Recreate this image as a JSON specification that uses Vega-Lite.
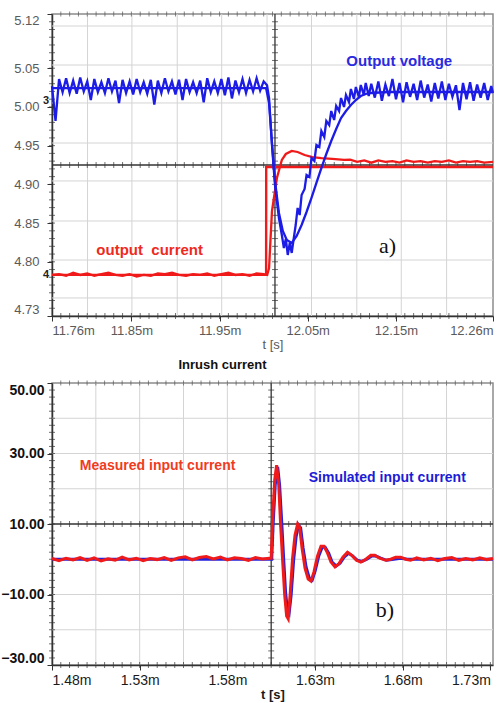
{
  "$schema": "https://vega.github.io/schema/vega-lite/v6.json",
  "padding": {"left": 0, "top": 10, "right": 2, "bottom": 0},
  "spacing": 5,
  "config": {
    "font": "Liberation Sans",
    "view": {"stroke": "#8c8c8c", "strokeWidth": 1.5},
    "axis": {"domainColor": "#333333", "tickColor": "#333333", "domainWidth": 1.5}
  },
  "datasets": {
    "topGridT": [{"t": 11.8003}, {"t": 11.8506}, {"t": 11.902}, {"t": 11.9524}, {"t": 12.0038}, {"t": 12.0542}, {"t": 12.1056}, {"t": 12.156}, {"t": 12.2074}],
    "topGridV": [{"v": 5.1045}, {"v": 5.0541}, {"v": 5.0051}, {"v": 4.9534}, {"v": 4.9044}, {"v": 4.8527}, {"v": 4.8023}, {"v": 4.7533}],
    "botGridT": [{"t": 1.505}, {"t": 1.53}, {"t": 1.555}, {"t": 1.58}, {"t": 1.63}, {"t": 1.655}, {"t": 1.68}, {"t": 1.705}],
    "botGridV": [{"v": 40}, {"v": 30}, {"v": 20}, {"v": 0}, {"v": -10}, {"v": -20}],
    "topTickT": [{"t":11.77},{"t":11.78},{"t":11.79},{"t":11.80},{"t":11.81},{"t":11.82},{"t":11.83},{"t":11.84},{"t":11.85},{"t":11.86},{"t":11.87},{"t":11.88},{"t":11.89},{"t":11.90},{"t":11.91},{"t":11.92},{"t":11.93},{"t":11.94},{"t":11.95},{"t":11.96},{"t":11.97},{"t":11.98},{"t":11.99},{"t":12.00},{"t":12.01},{"t":12.02},{"t":12.03},{"t":12.04},{"t":12.05},{"t":12.06},{"t":12.07},{"t":12.08},{"t":12.09},{"t":12.10},{"t":12.11},{"t":12.12},{"t":12.13},{"t":12.14},{"t":12.15},{"t":12.16},{"t":12.17},{"t":12.18},{"t":12.19},{"t":12.20},{"t":12.21},{"t":12.22},{"t":12.23},{"t":12.24},{"t":12.25}],
    "topTickV": [{"v":4.74},{"v":4.75},{"v":4.76},{"v":4.77},{"v":4.78},{"v":4.79},{"v":4.80},{"v":4.81},{"v":4.82},{"v":4.83},{"v":4.84},{"v":4.85},{"v":4.86},{"v":4.87},{"v":4.88},{"v":4.89},{"v":4.90},{"v":4.91},{"v":4.92},{"v":4.93},{"v":4.94},{"v":4.95},{"v":4.96},{"v":4.97},{"v":4.98},{"v":4.99},{"v":5.00},{"v":5.01},{"v":5.02},{"v":5.03},{"v":5.04},{"v":5.05},{"v":5.06},{"v":5.07},{"v":5.08},{"v":5.09},{"v":5.10},{"v":5.11}],
    "topI": [
      {"s":"meas","t":11.760,"v":4.783},{"s":"meas","t":11.768,"v":4.784},{"s":"meas","t":11.776,"v":4.782},{"s":"meas","t":11.784,"v":4.786},{"s":"meas","t":11.792,"v":4.783},{"s":"meas","t":11.800,"v":4.785},{"s":"meas","t":11.808,"v":4.782},{"s":"meas","t":11.816,"v":4.784},{"s":"meas","t":11.824,"v":4.786},{"s":"meas","t":11.832,"v":4.783},{"s":"meas","t":11.840,"v":4.782},{"s":"meas","t":11.848,"v":4.784},{"s":"meas","t":11.856,"v":4.781},{"s":"meas","t":11.864,"v":4.783},{"s":"meas","t":11.872,"v":4.782},{"s":"meas","t":11.880,"v":4.785},{"s":"meas","t":11.888,"v":4.784},{"s":"meas","t":11.896,"v":4.786},{"s":"meas","t":11.904,"v":4.783},{"s":"meas","t":11.912,"v":4.782},{"s":"meas","t":11.920,"v":4.784},{"s":"meas","t":11.928,"v":4.783},{"s":"meas","t":11.936,"v":4.785},{"s":"meas","t":11.944,"v":4.782},{"s":"meas","t":11.952,"v":4.784},{"s":"meas","t":11.960,"v":4.786},{"s":"meas","t":11.968,"v":4.783},{"s":"meas","t":11.976,"v":4.784},{"s":"meas","t":11.984,"v":4.782},{"s":"meas","t":11.992,"v":4.785},{"s":"meas","t":12.000,"v":4.784},{"s":"meas","t":12.004,"v":4.783},
      {"s":"meas","t":12.0061,"v":4.792},{"s":"meas","t":12.0094,"v":4.8656},{"s":"meas","t":12.0128,"v":4.8914},{"s":"meas","t":12.0150,"v":4.9082},{"s":"meas","t":12.0184,"v":4.9224},{"s":"meas","t":12.0206,"v":4.9315},{"s":"meas","t":12.0251,"v":4.9392},{"s":"meas","t":12.0318,"v":4.9431},{"s":"meas","t":12.0385,"v":4.9418},{"s":"meas","t":12.0464,"v":4.9379},{"s":"meas","t":12.0553,"v":4.9353},{"s":"meas","t":12.0654,"v":4.934},{"s":"meas","t":12.0777,"v":4.9328},{"s":"meas","t":12.0911,"v":4.9315},
      {"s":"meas","t":12.098,"v":4.932},{"s":"meas","t":12.106,"v":4.929},{"s":"meas","t":12.114,"v":4.931},{"s":"meas","t":12.122,"v":4.928},{"s":"meas","t":12.130,"v":4.931},{"s":"meas","t":12.138,"v":4.929},{"s":"meas","t":12.146,"v":4.930},{"s":"meas","t":12.154,"v":4.928},{"s":"meas","t":12.162,"v":4.931},{"s":"meas","t":12.170,"v":4.929},{"s":"meas","t":12.178,"v":4.930},{"s":"meas","t":12.186,"v":4.928},{"s":"meas","t":12.194,"v":4.930},{"s":"meas","t":12.202,"v":4.929},{"s":"meas","t":12.210,"v":4.931},{"s":"meas","t":12.218,"v":4.928},{"s":"meas","t":12.226,"v":4.930},{"s":"meas","t":12.234,"v":4.929},{"s":"meas","t":12.242,"v":4.930},{"s":"meas","t":12.250,"v":4.928},{"s":"meas","t":12.260,"v":4.929},
      {"s":"sim","t":11.760,"v":4.783},{"s":"sim","t":12.0027,"v":4.783},{"s":"sim","t":12.0028,"v":4.9224},{"s":"sim","t":12.260,"v":4.9224}
    ],
    "topV": [
      {"s":"meas","t":11.760,"v":5.027},{"s":"meas","t":11.764,"v":4.982},{"s":"meas","t":11.768,"v":5.036},{"s":"meas","t":11.772,"v":5.019},{"s":"meas","t":11.776,"v":5.037},{"s":"meas","t":11.780,"v":5.018},{"s":"meas","t":11.784,"v":5.034},{"s":"meas","t":11.788,"v":5.017},{"s":"meas","t":11.792,"v":5.038},{"s":"meas","t":11.796,"v":5.020},{"s":"meas","t":11.800,"v":5.033},{"s":"meas","t":11.804,"v":5.009},{"s":"meas","t":11.808,"v":5.036},{"s":"meas","t":11.812,"v":5.019},{"s":"meas","t":11.816,"v":5.032},{"s":"meas","t":11.820,"v":5.018},{"s":"meas","t":11.824,"v":5.037},{"s":"meas","t":11.828,"v":5.020},{"s":"meas","t":11.832,"v":5.034},{"s":"meas","t":11.836,"v":5.005},{"s":"meas","t":11.840,"v":5.035},{"s":"meas","t":11.844,"v":5.018},{"s":"meas","t":11.848,"v":5.033},{"s":"meas","t":11.852,"v":5.016},{"s":"meas","t":11.856,"v":5.036},{"s":"meas","t":11.860,"v":5.019},{"s":"meas","t":11.864,"v":5.032},{"s":"meas","t":11.868,"v":5.017},{"s":"meas","t":11.872,"v":5.035},{"s":"meas","t":11.876,"v":5.003},{"s":"meas","t":11.880,"v":5.034},{"s":"meas","t":11.884,"v":5.018},{"s":"meas","t":11.888,"v":5.037},{"s":"meas","t":11.892,"v":5.020},{"s":"meas","t":11.896,"v":5.033},{"s":"meas","t":11.900,"v":5.016},{"s":"meas","t":11.904,"v":5.035},{"s":"meas","t":11.908,"v":5.009},{"s":"meas","t":11.912,"v":5.036},{"s":"meas","t":11.916,"v":5.019},{"s":"meas","t":11.920,"v":5.032},{"s":"meas","t":11.924,"v":5.018},{"s":"meas","t":11.928,"v":5.034},{"s":"meas","t":11.932,"v":5.006},{"s":"meas","t":11.936,"v":5.037},{"s":"meas","t":11.940,"v":5.019},{"s":"meas","t":11.944,"v":5.033},{"s":"meas","t":11.948,"v":5.018},{"s":"meas","t":11.952,"v":5.036},{"s":"meas","t":11.956,"v":5.015},{"s":"meas","t":11.960,"v":5.038},{"s":"meas","t":11.964,"v":5.011},{"s":"meas","t":11.968,"v":5.034},{"s":"meas","t":11.972,"v":5.019},{"s":"meas","t":11.976,"v":5.036},{"s":"meas","t":11.980,"v":5.018},{"s":"meas","t":11.984,"v":5.035},{"s":"meas","t":11.988,"v":5.020},{"s":"meas","t":11.992,"v":5.037},{"s":"meas","t":11.996,"v":5.021},{"s":"meas","t":12.000,"v":5.033},{"s":"meas","t":12.0038,"v":5.028},
      {"s":"meas","t":12.0061,"v":5.0115},{"s":"meas","t":12.0094,"v":4.9508},{"s":"meas","t":12.0128,"v":4.8992},{"s":"meas","t":12.0173,"v":4.8566},{"s":"meas","t":12.0206,"v":4.8346},{"s":"meas","t":12.0229,"v":4.8178},{"s":"meas","t":12.0251,"v":4.8295},{"s":"meas","t":12.0273,"v":4.8088},{"s":"meas","t":12.0296,"v":4.8243},{"s":"meas","t":12.0318,"v":4.8114},{"s":"meas","t":12.0340,"v":4.8295},
      {"s":"meas","t":12.0363,"v":4.8475},{"s":"meas","t":12.0385,"v":4.8695},{"s":"meas","t":12.0408,"v":4.8604},{"s":"meas","t":12.0430,"v":4.8863},{"s":"meas","t":12.0464,"v":4.894},{"s":"meas","t":12.0486,"v":4.9121},{"s":"meas","t":12.0519,"v":4.9095},{"s":"meas","t":12.0542,"v":4.934},{"s":"meas","t":12.0575,"v":4.9302},{"s":"meas","t":12.0598,"v":4.9508},{"s":"meas","t":12.0631,"v":4.9482},{"s":"meas","t":12.0654,"v":4.9689},{"s":"meas","t":12.0687,"v":4.9612},{"s":"meas","t":12.0710,"v":4.9818},{"s":"meas","t":12.0743,"v":4.9766},{"s":"meas","t":12.0766,"v":4.9947},{"s":"meas","t":12.0799,"v":4.9831},{"s":"meas","t":12.0822,"v":5.0012},{"s":"meas","t":12.0855,"v":4.9947},{"s":"meas","t":12.0877,"v":5.0115},{"s":"meas","t":12.0911,"v":4.9999},{"s":"meas","t":12.0933,"v":5.0154},{"s":"meas","t":12.0967,"v":5.0064},{"s":"meas","t":12.0989,"v":5.0232},{"s":"meas","t":12.1023,"v":5.0102},{"s":"meas","t":12.1045,"v":5.0257},{"s":"meas","t":12.1079,"v":5.0128},{"s":"meas","t":12.1101,"v":5.0283},{"s":"meas","t":12.1135,"v":5.0154},{"s":"meas","t":12.1157,"v":5.0309},{"s":"meas","t":12.1191,"v":5.0141},
      {"s":"meas","t":12.122,"v":5.030},{"s":"meas","t":12.126,"v":5.012},{"s":"meas","t":12.130,"v":5.033},{"s":"meas","t":12.134,"v":5.008},{"s":"meas","t":12.138,"v":5.029},{"s":"meas","t":12.142,"v":5.014},{"s":"meas","t":12.146,"v":5.036},{"s":"meas","t":12.150,"v":5.010},{"s":"meas","t":12.154,"v":5.031},{"s":"meas","t":12.158,"v":5.006},{"s":"meas","t":12.162,"v":5.032},{"s":"meas","t":12.166,"v":5.013},{"s":"meas","t":12.170,"v":5.030},{"s":"meas","t":12.174,"v":5.009},{"s":"meas","t":12.178,"v":5.034},{"s":"meas","t":12.182,"v":5.012},{"s":"meas","t":12.186,"v":5.029},{"s":"meas","t":12.190,"v":5.007},{"s":"meas","t":12.194,"v":5.031},{"s":"meas","t":12.198,"v":5.011},{"s":"meas","t":12.202,"v":5.033},{"s":"meas","t":12.206,"v":5.009},{"s":"meas","t":12.210,"v":5.030},{"s":"meas","t":12.214,"v":5.013},{"s":"meas","t":12.218,"v":5.028},{"s":"meas","t":12.222,"v":4.996},{"s":"meas","t":12.226,"v":5.031},{"s":"meas","t":12.230,"v":5.010},{"s":"meas","t":12.234,"v":5.032},{"s":"meas","t":12.238,"v":5.008},{"s":"meas","t":12.242,"v":5.029},{"s":"meas","t":12.246,"v":5.012},{"s":"meas","t":12.250,"v":5.031},{"s":"meas","t":12.254,"v":5.009},{"s":"meas","t":12.258,"v":5.027},{"s":"meas","t":12.260,"v":5.018},
      {"s":"sim","t":11.760,"v":5.0244},{"s":"sim","t":12.0027,"v":5.0244},{"s":"sim","t":12.0061,"v":5.0049},{"s":"sim","t":12.0094,"v":4.9534},{"s":"sim","t":12.0128,"v":4.9044},{"s":"sim","t":12.0173,"v":4.863},{"s":"sim","t":12.0217,"v":4.8398},{"s":"sim","t":12.0262,"v":4.8282},{"s":"sim","t":12.0318,"v":4.8243},{"s":"sim","t":12.0374,"v":4.8333},{"s":"sim","t":12.0430,"v":4.8475},{"s":"sim","t":12.0486,"v":4.8643},{"s":"sim","t":12.0542,"v":4.8824},{"s":"sim","t":12.0598,"v":4.9018},{"s":"sim","t":12.0654,"v":4.9211},{"s":"sim","t":12.0710,"v":4.9392},{"s":"sim","t":12.0766,"v":4.956},{"s":"sim","t":12.0822,"v":4.9715},{"s":"sim","t":12.0877,"v":4.9857},{"s":"sim","t":12.0933,"v":4.9947},{"s":"sim","t":12.0989,"v":5.0025},{"s":"sim","t":12.1045,"v":5.0089},{"s":"sim","t":12.1101,"v":5.0141},{"s":"sim","t":12.1157,"v":5.0167},{"s":"sim","t":12.1213,"v":5.018},{"s":"sim","t":12.1414,"v":5.0193},{"s":"sim","t":12.260,"v":5.0193}
    ],
    "botTickT": [{"t":1.485},{"t":1.49},{"t":1.495},{"t":1.5},{"t":1.505},{"t":1.51},{"t":1.515},{"t":1.52},{"t":1.525},{"t":1.53},{"t":1.535},{"t":1.54},{"t":1.545},{"t":1.55},{"t":1.555},{"t":1.56},{"t":1.565},{"t":1.57},{"t":1.575},{"t":1.58},{"t":1.585},{"t":1.59},{"t":1.595},{"t":1.6},{"t":1.605},{"t":1.61},{"t":1.615},{"t":1.62},{"t":1.625},{"t":1.63},{"t":1.635},{"t":1.64},{"t":1.645},{"t":1.65},{"t":1.655},{"t":1.66},{"t":1.665},{"t":1.67},{"t":1.675},{"t":1.68},{"t":1.685},{"t":1.69},{"t":1.695},{"t":1.7},{"t":1.705},{"t":1.71},{"t":1.715},{"t":1.72},{"t":1.725},{"t":1.73}],
    "botTickV": [{"v":-28},{"v":-26},{"v":-24},{"v":-22},{"v":-20},{"v":-18},{"v":-16},{"v":-14},{"v":-12},{"v":-10},{"v":-8},{"v":-6},{"v":-4},{"v":-2},{"v":0},{"v":2},{"v":4},{"v":6},{"v":8},{"v":10},{"v":12},{"v":14},{"v":16},{"v":18},{"v":20},{"v":22},{"v":24},{"v":26},{"v":28},{"v":30},{"v":32},{"v":34},{"v":36},{"v":38},{"v":40},{"v":42},{"v":44},{"v":46},{"v":48}],
    "botMeas": [
      {"t":1.480,"v":0.2},{"t":1.484,"v":-0.4},{"t":1.488,"v":0.3},{"t":1.492,"v":-0.2},{"t":1.496,"v":0.5},{"t":1.500,"v":-0.3},{"t":1.504,"v":0.4},{"t":1.508,"v":-0.5},{"t":1.512,"v":0.1},{"t":1.516,"v":-0.3},{"t":1.520,"v":0.6},{"t":1.524,"v":-0.2},{"t":1.528,"v":0.3},{"t":1.532,"v":-0.4},{"t":1.536,"v":0.2},{"t":1.540,"v":-0.1},{"t":1.544,"v":0.5},{"t":1.548,"v":-0.3},{"t":1.552,"v":0.4},{"t":1.556,"v":0.7},{"t":1.560,"v":-0.2},{"t":1.564,"v":0.5},{"t":1.568,"v":0.8},{"t":1.572,"v":0.1},{"t":1.576,"v":0.6},{"t":1.580,"v":-0.2},{"t":1.584,"v":0.4},{"t":1.588,"v":0.2},{"t":1.592,"v":-0.3},{"t":1.596,"v":0.5},{"t":1.600,"v":0.1},{"t":1.604,"v":0.3},
      {"t":1.6050,"v":0.3},{"t":1.6058,"v":11.1},{"t":1.6070,"v":22.5},{"t":1.6081,"v":26.7},{"t":1.6093,"v":21.1},{"t":1.6104,"v":9.7},{"t":1.6115,"v":-0.2},{"t":1.6127,"v":-10.1},{"t":1.6138,"v":-16.1},{"t":1.6147,"v":-16.9},{"t":1.6158,"v":-10.1},{"t":1.6172,"v":0.3},{"t":1.6186,"v":6.9},{"t":1.6201,"v":10.0},{"t":1.6212,"v":9.1},{"t":1.6226,"v":3.2},{"t":1.6243,"v":-2.5},{"t":1.6261,"v":-5.6},{"t":1.6277,"v":-6.2},{"t":1.6294,"v":-3.6},{"t":1.6314,"v":0.9},{"t":1.6334,"v":3.7},{"t":1.6351,"v":3.7},{"t":1.6371,"v":1.8},{"t":1.6391,"v":-0.8},{"t":1.6414,"v":-2.2},{"t":1.6436,"v":-1.3},{"t":1.6459,"v":0.6},{"t":1.6485,"v":2.0},{"t":1.6510,"v":1.1},{"t":1.6536,"v":-0.3},{"t":1.6561,"v":-0.8},{"t":1.6590,"v":0.0},{"t":1.6618,"v":1.1},{"t":1.6641,"v":1.1},{"t":1.6669,"v":0.3},{"t":1.6703,"v":-0.3},{"t":1.6732,"v":0.0},{"t":1.6760,"v":0.6},{"t":1.6789,"v":0.6},{"t":1.6817,"v":0.0},
      {"t":1.6845,"v":-0.3},{"t":1.688,"v":0.4},{"t":1.692,"v":-0.2},{"t":1.696,"v":0.3},{"t":1.700,"v":-0.4},{"t":1.704,"v":0.2},{"t":1.708,"v":0.5},{"t":1.712,"v":-0.3},{"t":1.716,"v":0.2},{"t":1.720,"v":-0.2},{"t":1.724,"v":0.4},{"t":1.728,"v":-0.1},{"t":1.7315,"v":0.2}
    ],
    "botSim": [
      {"t":1.480,"v":0},{"t":1.6053,"v":0},{"t":1.6061,"v":9.7},{"t":1.6073,"v":21.1},{"t":1.6087,"v":26.2},{"t":1.6098,"v":21.1},{"t":1.6110,"v":10.6},{"t":1.6121,"v":0.3},{"t":1.6132,"v":-9.3},{"t":1.6144,"v":-15.0},{"t":1.6152,"v":-15.5},{"t":1.6164,"v":-10.1},{"t":1.6178,"v":-0.3},{"t":1.6192,"v":6.3},{"t":1.6206,"v":9.7},{"t":1.6218,"v":8.9},{"t":1.6232,"v":3.2},{"t":1.6249,"v":-2.2},{"t":1.6267,"v":-5.3},{"t":1.6284,"v":-5.9},{"t":1.6301,"v":-3.3},{"t":1.6321,"v":0.9},{"t":1.6341,"v":3.4},{"t":1.6358,"v":3.4},{"t":1.6378,"v":1.7},{"t":1.6397,"v":-0.8},{"t":1.6420,"v":-1.9},{"t":1.6443,"v":-1.1},{"t":1.6466,"v":0.6},{"t":1.6491,"v":1.7},{"t":1.6516,"v":0.9},{"t":1.6542,"v":-0.3},{"t":1.6568,"v":-0.6},{"t":1.6596,"v":0.0},{"t":1.6624,"v":0.9},{"t":1.6647,"v":0.9},{"t":1.6675,"v":0.3},{"t":1.6709,"v":-0.3},{"t":1.6749,"v":0.0},{"t":1.6789,"v":0.3},{"t":1.6828,"v":0.0},{"t":1.7315,"v":0.0}
    ]
  },
  "vconcat": [
    {
      "width": 441,
      "height": 302,
      "layer": [
        {"data": {"name": "topGridT"}, "mark": {"type": "rule", "color": "#d4d4d4", "strokeWidth": 1},
         "encoding": {"x": {"field": "t", "type": "quantitative", "scale": {"domain": [11.76, 12.26], "nice": false, "zero": false},
                 "axis": {"values": [11.76, 11.85, 11.95, 12.05, 12.15, 12.26],
                          "labelExpr": "format(datum.value, '.2f') + 'm'",
                          "labelFlush": 5, "labelOverlap": false, "labelSeparation": -20, "grid": false, "tickSize": 5,
                          "labelColor": "#5a5a5a", "labelFontSize": 13, "labelPadding": 3,
                          "title": "t [s]", "titleColor": "#5a5a5a", "titleFontWeight": "normal", "titleFontSize": 13, "titlePadding": 1}}}},
        {"data": {"name": "topGridV"}, "mark": {"type": "rule", "color": "#d4d4d4", "strokeWidth": 1},
         "encoding": {"y": {"field": "v", "type": "quantitative", "scale": {"domain": [4.73, 5.12], "nice": false, "zero": false},
                 "axis": {"values": [4.73, 4.80, 4.85, 4.90, 4.95, 5.00, 5.05, 5.12],
                          "labelExpr": "format(datum.value, '.2f')",
                          "labelFlush": true, "labelOverlap": false, "labelSeparation": -20, "grid": false, "tickSize": 5,
                          "labelColor": "#5a5a5a", "labelFontSize": 13, "labelPadding": 8, "title": null}}}},
        {"data": {"values": [{"t": 12.0128}]}, "mark": {"type": "rule", "color": "#333333", "strokeWidth": 1.3},
         "encoding": {"x": {"field": "t", "type": "quantitative", "scale": {"domain": [11.76, 12.26], "nice": false, "zero": false}}}},
        {"data": {"values": [{"v": 4.925}]}, "mark": {"type": "rule", "color": "#333333", "strokeWidth": 1.3},
         "encoding": {"y": {"field": "v", "type": "quantitative", "scale": {"domain": [4.73, 5.12], "nice": false, "zero": false}}}},
        {"data": {"name": "topTickT"}, "mark": {"type": "tick", "orient": "vertical", "size": 6, "thickness": 1, "color": "#333333"},
         "encoding": {"x": {"field": "t", "type": "quantitative", "scale": {"domain": [11.76, 12.26], "nice": false, "zero": false}},
                      "y": {"datum": 4.925, "type": "quantitative", "scale": {"domain": [4.73, 5.12], "nice": false, "zero": false}}}},
        {"data": {"name": "topTickT"}, "mark": {"type": "tick", "orient": "vertical", "size": 6, "thickness": 1, "color": "#333333"},
         "encoding": {"x": {"field": "t", "type": "quantitative", "scale": {"domain": [11.76, 12.26], "nice": false, "zero": false}},
                      "y": {"datum": 4.73, "type": "quantitative", "scale": {"domain": [4.73, 5.12], "nice": false, "zero": false}}}},
        {"data": {"name": "topTickT"}, "mark": {"type": "tick", "orient": "vertical", "size": 5, "thickness": 1, "color": "#555555"},
         "encoding": {"x": {"field": "t", "type": "quantitative", "scale": {"domain": [11.76, 12.26], "nice": false, "zero": false}},
                      "y": {"datum": 5.12, "type": "quantitative", "scale": {"domain": [4.73, 5.12], "nice": false, "zero": false}}}},
        {"data": {"name": "topTickV"}, "mark": {"type": "tick", "orient": "horizontal", "size": 6, "thickness": 1, "color": "#333333"},
         "encoding": {"y": {"field": "v", "type": "quantitative", "scale": {"domain": [4.73, 5.12], "nice": false, "zero": false}},
                      "x": {"datum": 12.0128, "type": "quantitative", "scale": {"domain": [11.76, 12.26], "nice": false, "zero": false}}}},
        {"data": {"name": "topTickV"}, "mark": {"type": "tick", "orient": "horizontal", "size": 6, "thickness": 1, "color": "#333333"},
         "encoding": {"y": {"field": "v", "type": "quantitative", "scale": {"domain": [4.73, 5.12], "nice": false, "zero": false}},
                      "x": {"datum": 11.76, "type": "quantitative", "scale": {"domain": [11.76, 12.26], "nice": false, "zero": false}}}},
        {"data": {"name": "topI"}, "mark": {"type": "line", "color": "#f01a1a", "strokeWidth": 2.3},
         "encoding": {
           "x": {"field": "t", "type": "quantitative", "scale": {"domain": [11.76, 12.26], "nice": false, "zero": false}},
           "y": {"field": "v", "type": "quantitative", "scale": {"domain": [4.73, 5.12], "nice": false, "zero": false}},
           "detail": {"field": "s"}}},
        {"data": {"name": "topV"}, "mark": {"type": "line", "color": "#1c1ce6", "strokeWidth": 2.3},
         "encoding": {
           "x": {"field": "t", "type": "quantitative", "scale": {"domain": [11.76, 12.26], "nice": false, "zero": false}},
           "y": {"field": "v", "type": "quantitative", "scale": {"domain": [4.73, 5.12], "nice": false, "zero": false}},
           "detail": {"field": "s"}}},
        {"data": {"values": [{"t": 12.1537, "v": 5.0593, "label": "Output voltage"}]},
         "mark": {"type": "text", "color": "#2a2ae0", "fontWeight": "bold", "fontSize": 15, "font": "Liberation Sans"},
         "encoding": {"x": {"field": "t", "type": "quantitative"}, "y": {"field": "v", "type": "quantitative"}, "text": {"field": "label"}}},
        {"data": {"values": [{"t": 11.8707, "v": 4.8152, "label": "output\u00a0 current"}]},
         "mark": {"type": "text", "color": "#ee2a1e", "fontWeight": "bold", "fontSize": 15, "font": "Liberation Sans"},
         "encoding": {"x": {"field": "t", "type": "quantitative"}, "y": {"field": "v", "type": "quantitative"}, "text": {"field": "label"}}},
        {"data": {"values": [{"t": 12.1403, "v": 4.8204, "label": "a)"}]},
         "mark": {"type": "text", "color": "#111111", "fontSize": 22, "font": "Liberation Serif"},
         "encoding": {"x": {"field": "t", "type": "quantitative"}, "y": {"field": "v", "type": "quantitative"}, "text": {"field": "label"}}},
        {"data": {"values": [{"t": 11.76, "v": 5.008, "label": "3"}, {"t": 11.76, "v": 4.783, "label": "4"}]},
         "mark": {"type": "text", "color": "#222222", "fontWeight": "bold", "fontSize": 11, "align": "right", "dx": -3},
         "encoding": {"x": {"field": "t", "type": "quantitative"}, "y": {"field": "v", "type": "quantitative"}, "text": {"field": "label"}}}
      ]
    },
    {
      "width": 441,
      "height": 282,
      "title": {"text": "Inrush current", "anchor": "middle", "dx": -50, "fontSize": 13, "fontWeight": "bold", "color": "#111111", "offset": 9, "font": "Liberation Sans"},
      "layer": [
        {"data": {"name": "botGridT"}, "mark": {"type": "rule", "color": "#d4d4d4", "strokeWidth": 1},
         "encoding": {"x": {"field": "t", "type": "quantitative", "scale": {"domain": [1.48, 1.7315], "nice": false, "zero": false},
                 "axis": {"values": [1.48, 1.53, 1.58, 1.63, 1.68, 1.73],
                          "labelExpr": "format(datum.value, '.2f') + 'm'",
                          "labelFlush": 6, "labelOverlap": false, "labelSeparation": -20, "grid": false, "tickSize": 5,
                          "labelColor": "#1a1a1a", "labelFontSize": 14, "labelPadding": 3,
                          "title": "t [s]", "titleColor": "#1a1a1a", "titleFontWeight": "bold", "titleFontSize": 13, "titlePadding": 1}}}},
        {"data": {"name": "botGridV"}, "mark": {"type": "rule", "color": "#d4d4d4", "strokeWidth": 1},
         "encoding": {"y": {"field": "v", "type": "quantitative", "scale": {"domain": [-30, 50], "nice": false, "zero": false},
                 "axis": {"values": [-30, -20, -10, 0, 10, 20, 30, 40, 50],
                          "labelExpr": "datum.value == 0 ? '0' : format(datum.value, '.2f')",
                          "labelFlush": true, "labelOverlap": false, "labelSeparation": -20, "grid": false, "tickSize": 5,
                          "labelColor": "#111111", "labelFontSize": 14, "labelFontWeight": "bold", "labelPadding": 3, "title": null}}}},
        {"data": {"values": [{"t": 1.605}]}, "mark": {"type": "rule", "color": "#333333", "strokeWidth": 1.3},
         "encoding": {"x": {"field": "t", "type": "quantitative", "scale": {"domain": [1.48, 1.7315], "nice": false, "zero": false}}}},
        {"data": {"values": [{"v": 10}]}, "mark": {"type": "rule", "color": "#333333", "strokeWidth": 1.3},
         "encoding": {"y": {"field": "v", "type": "quantitative", "scale": {"domain": [-30, 50], "nice": false, "zero": false}}}},
        {"data": {"name": "botTickT"}, "mark": {"type": "tick", "orient": "vertical", "size": 6, "thickness": 1, "color": "#333333"},
         "encoding": {"x": {"field": "t", "type": "quantitative", "scale": {"domain": [1.48, 1.7315], "nice": false, "zero": false}},
                      "y": {"datum": 10, "type": "quantitative", "scale": {"domain": [-30, 50], "nice": false, "zero": false}}}},
        {"data": {"name": "botTickT"}, "mark": {"type": "tick", "orient": "vertical", "size": 6, "thickness": 1, "color": "#333333"},
         "encoding": {"x": {"field": "t", "type": "quantitative", "scale": {"domain": [1.48, 1.7315], "nice": false, "zero": false}},
                      "y": {"datum": -30, "type": "quantitative", "scale": {"domain": [-30, 50], "nice": false, "zero": false}}}},
        {"data": {"name": "botTickT"}, "mark": {"type": "tick", "orient": "vertical", "size": 5, "thickness": 1, "color": "#555555"},
         "encoding": {"x": {"field": "t", "type": "quantitative", "scale": {"domain": [1.48, 1.7315], "nice": false, "zero": false}},
                      "y": {"datum": 50, "type": "quantitative", "scale": {"domain": [-30, 50], "nice": false, "zero": false}}}},
        {"data": {"name": "botTickV"}, "mark": {"type": "tick", "orient": "horizontal", "size": 6, "thickness": 1, "color": "#333333"},
         "encoding": {"y": {"field": "v", "type": "quantitative", "scale": {"domain": [-30, 50], "nice": false, "zero": false}},
                      "x": {"datum": 1.605, "type": "quantitative", "scale": {"domain": [1.48, 1.7315], "nice": false, "zero": false}}}},
        {"data": {"name": "botTickV"}, "mark": {"type": "tick", "orient": "horizontal", "size": 6, "thickness": 1, "color": "#333333"},
         "encoding": {"y": {"field": "v", "type": "quantitative", "scale": {"domain": [-30, 50], "nice": false, "zero": false}},
                      "x": {"datum": 1.48, "type": "quantitative", "scale": {"domain": [1.48, 1.7315], "nice": false, "zero": false}}}},
        {"data": {"name": "botSim"}, "mark": {"type": "line", "color": "#2222dd", "strokeWidth": 3},
         "encoding": {
           "x": {"field": "t", "type": "quantitative", "scale": {"domain": [1.48, 1.7315], "nice": false, "zero": false}},
           "y": {"field": "v", "type": "quantitative", "scale": {"domain": [-30, 50], "nice": false, "zero": false}}}},
        {"data": {"name": "botMeas"}, "mark": {"type": "line", "color": "#f01a1a", "strokeWidth": 3},
         "encoding": {
           "x": {"field": "t", "type": "quantitative", "scale": {"domain": [1.48, 1.7315], "nice": false, "zero": false}},
           "y": {"field": "v", "type": "quantitative", "scale": {"domain": [-30, 50], "nice": false, "zero": false}}}},
        {"data": {"values": [{"t": 1.5402, "v": 26.45, "label": "Measured input current"}]},
         "mark": {"type": "text", "color": "#f03c1e", "fontWeight": "bold", "fontSize": 14, "font": "Liberation Sans"},
         "encoding": {"x": {"field": "t", "type": "quantitative"}, "y": {"field": "v", "type": "quantitative"}, "text": {"field": "label"}}},
        {"data": {"values": [{"t": 1.6712, "v": 23.05, "label": "Simulated input current"}]},
         "mark": {"type": "text", "color": "#1c1cd6", "fontWeight": "bold", "fontSize": 14, "font": "Liberation Sans"},
         "encoding": {"x": {"field": "t", "type": "quantitative"}, "y": {"field": "v", "type": "quantitative"}, "text": {"field": "label"}}},
        {"data": {"values": [{"t": 1.6698, "v": -14.4, "label": "b)"}]},
         "mark": {"type": "text", "color": "#111111", "fontSize": 22, "font": "Liberation Serif"},
         "encoding": {"x": {"field": "t", "type": "quantitative"}, "y": {"field": "v", "type": "quantitative"}, "text": {"field": "label"}}}
      ]
    }
  ]
}
